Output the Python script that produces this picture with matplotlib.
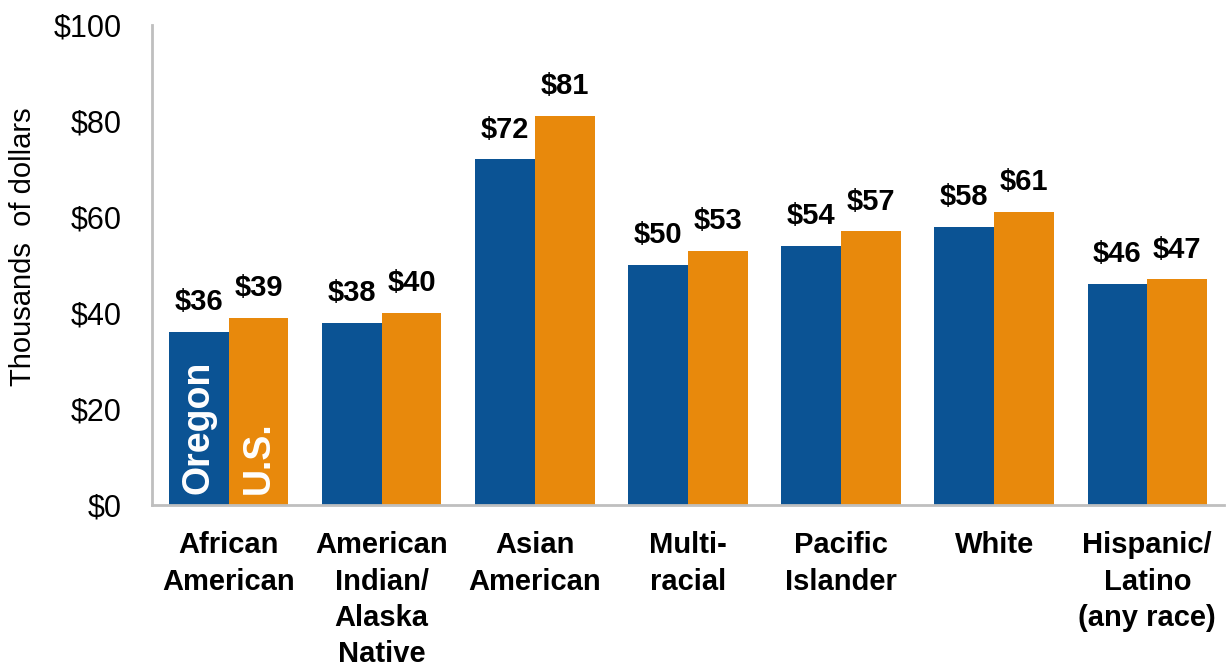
import numpy as np
import matplotlib.pyplot as plt

plt.rcParams['font.family'] = ['Liberation Sans', 'DejaVu Sans']

categories = ['African\nAmerican', 'American\nIndian/\nAlaska\nNative', 'Asian\nAmerican',
              'Multi-\nracial', 'Pacific\nIslander', 'White', 'Hispanic/\nLatino\n(any race)']
oregon = [36, 38, 72, 50, 54, 58, 46]
us = [39, 40, 81, 53, 57, 61, 47]
yticks = [0, 20, 40, 60, 80, 100]

blue = '#0b5394'
orange = '#e8890c'

fig = plt.figure(figsize=(12.3, 6.68), dpi=100)
ax = fig.add_axes([0.1236, 0.244, 0.8714, 0.7186])

x = np.arange(len(categories))
w = 0.39
b1 = ax.bar(x - w/2, oregon, w, color=blue)
b2 = ax.bar(x + w/2, us, w, color=orange)

for rect, v in zip(b1, oregon):
    ax.text(rect.get_x() + rect.get_width()/2, v + 3.3, '$%d' % v,
            ha='center', va='bottom', fontsize=21, fontweight='bold')
for rect, v in zip(b2, us):
    ax.text(rect.get_x() + rect.get_width()/2, v + 3.3, '$%d' % v,
            ha='center', va='bottom', fontsize=21, fontweight='bold')

# series names written inside the first pair of bars
ax.text(x[0] - w/2, 2.2, 'Oregon', rotation=90, ha='center', va='bottom',
        color='white', fontsize=27, fontweight='bold')
ax.text(x[0] + w/2, 2.2, 'U.S.', rotation=90, ha='center', va='bottom',
        color='white', fontsize=27, fontweight='bold')

ax.set_xlim(-0.5, len(categories) - 0.5)
ax.set_ylim(0, 100)
ax.set_yticks(yticks)
ax.set_yticklabels(['$%d' % t for t in yticks], fontsize=22)
ax.set_xticks(x)
ax.set_xticklabels(categories, fontsize=21, fontweight='bold', va='top', linespacing=1.38)
ax.tick_params(axis='y', length=0, pad=22)
ax.tick_params(axis='x', length=0, pad=19)
ax.set_ylabel('Thousands  of dollars', fontsize=21)
ax.yaxis.set_label_coords(-0.107, 0.5375)

for s in ['top', 'right']:
    ax.spines[s].set_visible(False)
for s in ['left', 'bottom']:
    ax.spines[s].set_color('#bfbfbf')
    ax.spines[s].set_linewidth(2)

fig.savefig('out.png', dpi=100)
